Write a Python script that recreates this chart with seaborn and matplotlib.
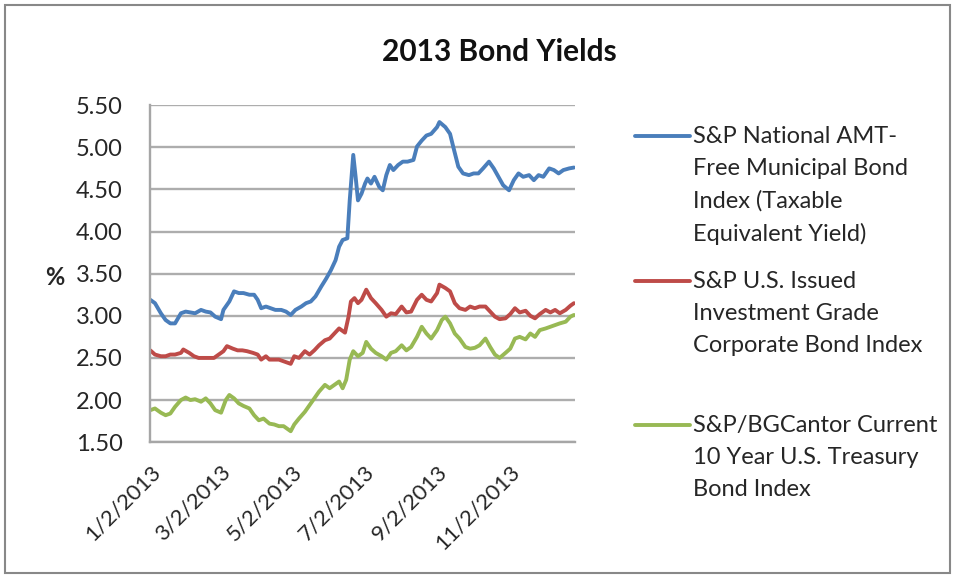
import pandas as pd
import seaborn as sns
import matplotlib.pyplot as plt
from matplotlib.lines import Line2D
from matplotlib.patches import Rectangle

# days counted from 1/2/2013 (%)
start = pd.Timestamp('2013-01-02')

muni_days = [0, 4, 9, 13, 17, 21, 26, 30, 34, 38, 43, 47, 51, 55, 60, 62, 67, 71, 75, 79,
             84, 88, 91, 94, 98, 102, 106, 111, 115, 119, 123, 128, 132, 136, 140, 145, 149,
             153, 157, 160, 163, 167, 169, 172, 174, 176, 179, 182, 184, 187, 190, 194, 197,
             200, 203, 206, 210, 214, 218, 223, 226, 230, 234, 238, 243, 245, 250, 254, 257,
             261, 265, 270, 274, 278, 282, 287, 291, 295, 299, 304, 308, 312, 316, 321, 325,
             329, 333, 338, 342, 346, 350, 355, 359]
muni_yield = [3.19, 3.15, 3.03, 2.95, 2.91, 2.91, 3.03, 3.05, 3.04, 3.03, 3.07, 3.05, 3.04, 2.99,
              2.96, 3.07, 3.17, 3.29, 3.27, 3.27, 3.25, 3.25, 3.19, 3.09, 3.11, 3.09, 3.07, 3.07,
              3.05, 3.01, 3.07, 3.11, 3.15, 3.17, 3.23, 3.35, 3.44, 3.54, 3.66, 3.82, 3.90, 3.92,
              4.37, 4.91, 4.65, 4.37, 4.45, 4.57, 4.63, 4.57, 4.65, 4.53, 4.49, 4.67, 4.79, 4.73,
              4.79, 4.83, 4.83, 4.85, 5.01, 5.08, 5.14, 5.16, 5.24, 5.30, 5.24, 5.16, 4.99, 4.77,
              4.69, 4.67, 4.69, 4.69, 4.75, 4.83, 4.75, 4.65, 4.55, 4.49, 4.61, 4.69, 4.65, 4.67,
              4.61, 4.67, 4.65, 4.75, 4.73, 4.69, 4.73, 4.75, 4.76]

corp_days = [0, 4, 9, 13, 17, 21, 26, 28, 33, 37, 41, 45, 50, 54, 58, 62, 65, 70, 74, 78, 82,
             87, 91, 94, 98, 101, 105, 109, 113, 119, 122, 126, 131, 135, 139, 143, 148, 152,
             156, 160, 165, 168, 170, 173, 176, 179, 183, 187, 191, 196, 200, 204, 208, 213,
             217, 221, 226, 230, 234, 238, 243, 245, 250, 254, 258, 262, 267, 271, 275, 279,
             284, 288, 292, 296, 301, 305, 309, 313, 318, 322, 326, 330, 335, 339, 343, 347,
             352, 356, 359]
corp_yield = [2.59, 2.54, 2.52, 2.52, 2.54, 2.54, 2.56, 2.60, 2.56, 2.52, 2.50, 2.50, 2.50, 2.50,
              2.54, 2.58, 2.64, 2.61, 2.59, 2.59, 2.58, 2.56, 2.54, 2.48, 2.52, 2.48, 2.48, 2.48,
              2.46, 2.43, 2.52, 2.50, 2.58, 2.54, 2.59, 2.65, 2.71, 2.73, 2.79, 2.85, 2.80, 2.99,
              3.17, 3.21, 3.15, 3.19, 3.31, 3.21, 3.15, 3.07, 2.99, 3.03, 3.02, 3.11, 3.04, 3.05,
              3.19, 3.25, 3.19, 3.17, 3.27, 3.37, 3.33, 3.29, 3.15, 3.09, 3.07, 3.11, 3.09, 3.11,
              3.11, 3.05, 2.99, 2.96, 2.97, 3.02, 3.09, 3.04, 3.06, 3.00, 2.97, 3.02, 3.07, 3.04,
              3.07, 3.03, 3.07, 3.12, 3.15]

treas_days = [0, 4, 9, 13, 17, 21, 26, 30, 34, 38, 43, 47, 51, 55, 60, 64, 67, 71, 75, 79, 84,
              88, 92, 96, 101, 105, 109, 113, 119, 122, 126, 131, 135, 139, 143, 148, 152, 156,
              160, 163, 166, 169, 172, 176, 180, 183, 187, 191, 196, 200, 204, 208, 213, 217,
              221, 226, 230, 234, 238, 243, 247, 250, 254, 258, 262, 267, 271, 275, 279, 284,
              288, 292, 296, 301, 305, 309, 313, 318, 322, 326, 330, 335, 339, 343, 347, 352,
              356, 359]
treas_yield = [1.88, 1.90, 1.85, 1.82, 1.84, 1.92, 2.00, 2.03, 2.00, 2.01, 1.98, 2.02, 1.96, 1.88,
               1.85, 2.00, 2.06, 2.02, 1.96, 1.93, 1.90, 1.82, 1.76, 1.78, 1.72, 1.71, 1.69, 1.69,
               1.63, 1.71, 1.78, 1.86, 1.94, 2.02, 2.10, 2.18, 2.14, 2.18, 2.22, 2.14, 2.24, 2.48,
               2.58, 2.52, 2.56, 2.69, 2.61, 2.56, 2.52, 2.48, 2.56, 2.58, 2.65, 2.59, 2.63, 2.75,
               2.87, 2.79, 2.73, 2.83, 2.95, 2.99, 2.91, 2.79, 2.73, 2.63, 2.61, 2.62, 2.65, 2.73,
               2.63, 2.54, 2.50, 2.56, 2.61, 2.73, 2.75, 2.72, 2.79, 2.75, 2.83, 2.85, 2.87, 2.89,
               2.91, 2.93, 2.99, 3.01]

series_names = ['S&P National AMT-\nFree Municipal Bond\nIndex (Taxable\nEquivalent Yield)',
                'S&P U.S. Issued\nInvestment Grade\nCorporate Bond Index',
                'S&P/BGCantor Current\n10 Year U.S. Treasury\nBond Index']
colors = ['#4A7EBB', '#BE4B48', '#98B954']

tick_dates = ['2013-01-02', '2013-03-02', '2013-05-02', '2013-07-02', '2013-09-02', '2013-11-02']
tick_labels = ['1/2/2013', '3/2/2013', '5/2/2013', '7/2/2013', '9/2/2013', '11/2/2013']
y_ticks = [1.5, 2.0, 2.5, 3.0, 3.5, 4.0, 4.5, 5.0, 5.5]

frames = []
for days, vals, name in [(muni_days, muni_yield, series_names[0]),
                         (corp_days, corp_yield, series_names[1]),
                         (treas_days, treas_yield, series_names[2])]:
    frames.append(pd.DataFrame({'date': start + pd.to_timedelta(days, unit='D'),
                                'yield': vals, 'index': name}))
df = pd.concat(frames, ignore_index=True)

sns.set_style('white')
plt.rcParams['font.family'] = ['Lato', 'DejaVu Sans']

fig = plt.figure(figsize=(9.57, 5.78), dpi=100)
ax = fig.add_axes([0.157, 0.235, 0.444, 0.583])

sns.lineplot(data=df, x='date', y='yield', hue='index', palette=colors,
             estimator=None, linewidth=2.8, legend=False, ax=ax)

ax.set_ylim(1.5, 5.5)
ax.set_xlim(start, start + pd.Timedelta(days=360))
ax.set_yticks(y_ticks)
ax.set_yticklabels(['%.2f' % v for v in y_ticks], fontsize=17, color='#262626')
ax.set_xticks(pd.to_datetime(tick_dates))
ax.set_xticklabels(tick_labels, rotation=45, ha='right', rotation_mode='anchor',
                   fontsize=16, color='#262626')
ax.grid(axis='y', color='#ADADAD', linewidth=1.7)
ax.set_axisbelow(True)
ax.tick_params(axis='x', direction='out', length=5, width=1.4, color='#A6A6A6', pad=9)
ax.tick_params(axis='y', direction='out', length=7, width=1.7, color='#ADADAD', pad=13)
for side in ['top', 'right']:
    ax.spines[side].set_visible(False)
for side in ['left', 'bottom']:
    ax.spines[side].set_color('#A6A6A6')
    ax.spines[side].set_linewidth(1.7)
ax.set_xlabel('')
ax.set_ylabel('%', rotation=0, fontsize=17, fontweight='bold', va='center', ha='center')
ax.yaxis.set_label_coords(-0.224, 0.49)

fig.text(0.522, 0.91, '2013 Bond Yields', ha='center', va='center',
         fontsize=21.5, fontweight='bold', color='#111111')

# legend drawn Excel-style: key line level with the first text line
key_y = [0.765, 0.514, 0.265]
for i in range(3):
    fig.add_artist(Line2D([0.664, 0.721], [key_y[i], key_y[i]], color=colors[i], linewidth=2.8))
    fig.text(0.724, key_y[i] + 0.017, series_names[i], ha='left', va='top', fontsize=17,
             color='#262626', linespacing=1.64, transform=fig.transFigure)

fig.add_artist(Rectangle((0.005, 0.008), 0.988, 0.984, fill=False, edgecolor='#888888',
                         linewidth=1.5, transform=fig.transFigure))

plt.savefig('out.png', dpi=100)
plt.close()
